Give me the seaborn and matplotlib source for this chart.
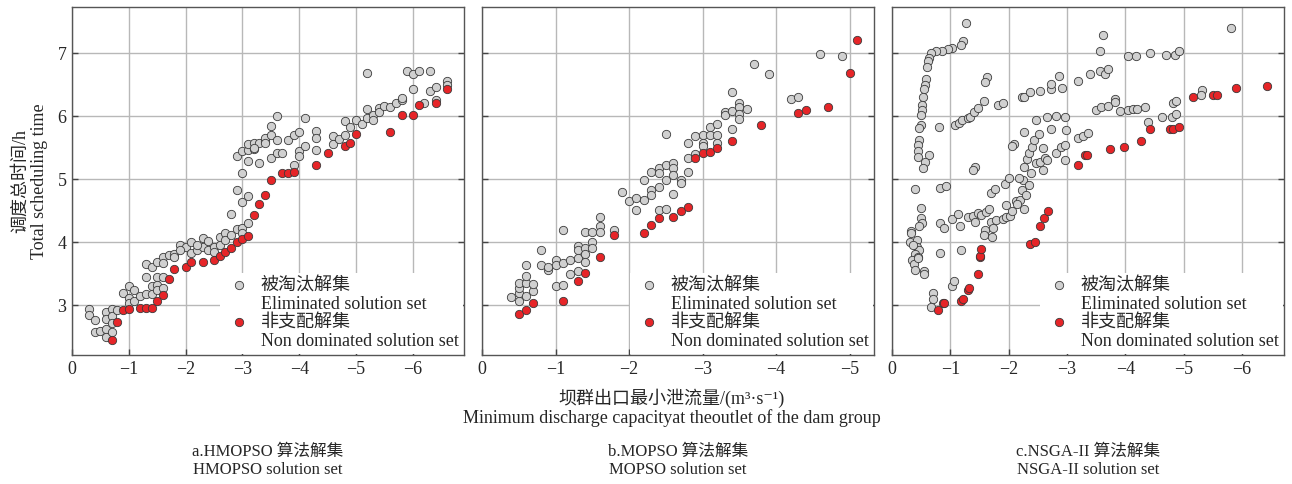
import matplotlib
matplotlib.use('Agg')
import matplotlib.pyplot as plt
from matplotlib.lines import Line2D
import seaborn as sns

sns.set_theme(style='whitegrid')
plt.rcParams['font.family'] = ['Liberation Serif', 'Noto Sans CJK SC', 'DejaVu Sans']
plt.rcParams['axes.unicode_minus'] = True

# ---- data (x: discharge, y: scheduling time) ----
# a. HMOPSO
hm_gray_x = [-0.3, -0.3, -0.4, -0.4, -0.5, -0.6, -0.6, -0.6, -0.6, -0.7, -0.7, -0.7, -0.7, -0.8,
             -0.9, -1.0, -1.0, -1.0, -1.1, -1.1, -1.2, -1.3, -1.3, -1.3, -1.4, -1.4, -1.4,
             -1.5, -1.5, -1.5, -1.5, -1.6, -1.6, -1.6, -1.6, -1.7, -1.8, -1.8, -1.9, -2.0,
             -2.1, -2.1, -2.2, -2.3, -2.3, -2.4, -2.4, -2.5, -2.6, -2.6, -2.7, -2.7, -2.8,
             -2.8, -2.9, -2.9, -2.9, -3.0, -3.0, -3.0, -3.0, -3.1, -3.1, -3.1, -3.1, -3.1,
             -3.2, -3.2, -3.3, -3.3, -3.4, -3.4, -3.5, -3.5, -3.5, -3.6, -3.6, -3.6, -3.7,
             -3.8, -3.9, -3.9, -4.0, -4.0, -4.0, -4.1, -4.1, -4.3, -4.3, -4.3, -4.6, -4.6,
             -4.7, -4.8, -4.8, -4.9, -5.0, -5.1, -5.2, -5.2, -5.2, -5.3, -5.3, -5.4, -5.4,
             -5.5, -5.6, -5.7, -5.8, -5.8, -5.9, -6.0, -6.0, -6.1, -6.2, -6.3, -6.3, -6.4,
             -6.4, -6.6, -6.6, -3.0, -2.5, -2.2, -1.9, -3.2, -3.4]
hm_gray_y = [2.94, 2.84, 2.77, 2.57, 2.59, 2.90, 2.78, 2.63, 2.50, 2.94, 2.83, 2.71, 2.58, 2.93,
             3.20, 3.30, 3.11, 3.03, 3.24, 3.06, 3.15, 3.65, 3.44, 3.17, 3.61, 3.30, 3.17,
             3.69, 3.45, 3.32, 3.24, 3.77, 3.67, 3.45, 3.27, 3.80, 3.82, 3.77, 3.96, 3.93,
             4.00, 3.83, 3.88, 4.07, 3.93, 4.02, 3.88, 3.93, 4.08, 3.95, 4.14, 4.04, 4.44,
             4.12, 4.21, 4.83, 5.36, 4.22, 4.63, 5.10, 5.44, 4.30, 4.74, 5.29, 5.46, 5.55,
             5.47, 5.57, 5.25, 5.57, 5.60, 5.66, 5.70, 5.84, 5.33, 6.00, 5.62, 5.41, 5.42,
             5.62, 5.70, 5.23, 5.74, 5.44, 5.36, 5.97, 5.52, 5.76, 5.66, 5.46, 5.68, 5.56,
             5.63, 5.92, 5.70, 5.82, 5.94, 5.87, 6.69, 6.11, 5.97, 6.02, 5.94, 6.13, 6.07,
             6.16, 6.15, 6.21, 6.26, 6.29, 6.72, 6.67, 6.43, 6.72, 6.21, 6.72, 6.39, 6.46,
             6.26, 6.55, 6.50, 4.15, 3.85, 3.95, 3.88, 5.50, 5.58]
hm_red_x = [-0.7, -0.8, -0.9, -1.0, -1.2, -1.3, -1.4, -1.5, -1.6, -1.7, -1.8, -2.0, -2.1,
            -2.3, -2.5, -2.6, -2.7, -2.8, -2.9, -3.0, -3.1, -3.2, -3.3, -3.4, -3.5, -3.7,
            -3.8, -3.9, -4.3, -4.5, -4.8, -4.9, -5.0, -5.6, -5.8, -6.0, -6.1, -6.4, -6.6]
hm_red_y = [2.45, 2.74, 2.93, 2.94, 2.95, 2.95, 2.96, 3.06, 3.16, 3.41, 3.57, 3.61, 3.68,
            3.69, 3.72, 3.78, 3.84, 3.90, 4.01, 4.05, 4.10, 4.43, 4.60, 4.75, 4.99, 5.10,
            5.10, 5.12, 5.22, 5.41, 5.53, 5.58, 5.71, 5.74, 6.02, 6.02, 6.17, 6.20, 6.43]

# b. MOPSO
mo_gray_x = [-0.4, -0.5, -0.5, -0.5, -0.5, -0.6, -0.6, -0.6, -0.6, -0.7, -0.7, -0.8, -0.8,
             -0.9, -0.9, -1.0, -1.0, -1.0, -1.1, -1.1, -1.1, -1.2, -1.2, -1.3, -1.3, -1.3,
             -1.3, -1.4, -1.4, -1.4, -1.4, -1.5, -1.5, -1.5, -1.6, -1.6, -1.6, -1.8, -1.9,
             -2.0, -2.1, -2.1, -2.2, -2.2, -2.3, -2.3, -2.3, -2.4, -2.4, -2.4, -2.4, -2.5,
             -2.5, -2.5, -2.5, -2.6, -2.6, -2.6, -2.6, -2.7, -2.7, -2.8, -2.8, -2.8, -2.9,
             -2.9, -3.0, -3.0, -3.0, -3.1, -3.1, -3.2, -3.2, -3.2, -3.3, -3.3, -3.4, -3.4,
             -3.4, -3.5, -3.5, -3.5, -3.5, -3.6, -3.7, -3.9, -4.2, -4.3, -4.6, -4.9]
mo_gray_y = [3.13, 3.06, 3.19, 3.27, 3.35, 3.14, 3.35, 3.46, 3.63, 3.23, 3.34, 3.63, 3.87,
             3.56, 3.61, 3.71, 3.63, 3.31, 3.67, 3.32, 4.19, 3.71, 3.50, 3.94, 3.87, 3.75,
             3.55, 4.16, 3.91, 3.82, 3.68, 4.16, 4.00, 3.91, 4.40, 4.25, 4.16, 4.20, 4.79,
             4.65, 4.70, 4.51, 4.67, 4.98, 5.12, 4.83, 4.75, 5.17, 5.10, 4.88, 4.51, 5.23,
             4.99, 4.53, 5.72, 5.25, 5.17, 5.07, 4.77, 4.99, 4.94, 5.57, 5.34, 5.11, 5.69,
             5.40, 5.70, 5.57, 5.52, 5.83, 5.70, 5.88, 5.70, 5.57, 6.07, 6.02, 6.38, 6.08,
             5.80, 6.20, 6.14, 6.04, 5.96, 6.11, 6.83, 6.67, 6.27, 6.30, 6.98, 6.96]
mo_red_x = [-0.5, -0.6, -0.7, -1.1, -1.3, -1.4, -1.6, -1.8, -2.2, -2.3, -2.4, -2.6, -2.7,
            -2.8, -2.9, -3.0, -3.1, -3.2, -3.4, -3.8, -4.3, -4.4, -4.7, -5.0, -5.1]
mo_red_y = [2.86, 2.93, 3.03, 3.07, 3.38, 3.51, 3.76, 4.11, 4.15, 4.28, 4.38, 4.40, 4.50,
            4.56, 5.34, 5.41, 5.43, 5.50, 5.60, 5.86, 6.05, 6.10, 6.15, 6.68, 7.21]

# c. NSGA-II
ns_gray_x = [-1.26, -1.22, -1.18, -1.02, -0.96, -0.85, -0.76, -0.67, -0.63, -0.61, -0.60,
             -0.58, -0.56, -0.54, -0.53, -0.51, -0.51, -0.50, -0.49, -0.47, -0.46, -0.45,
             -0.44, -0.44, -0.63, -0.57, -0.53, -0.81, -0.39, -0.50, -0.50, -0.51, -0.47,
             -0.33, -0.33, -0.30, -0.43, -0.42, -0.46, -0.40, -0.45, -0.34, -0.38, -0.39,
             -0.54, -0.54, -0.45, -0.36,
             -0.82, -0.93, -0.83, -0.89, -0.82, -1.03, -1.13, -1.16, -1.19, -1.03, -1.07,
             -0.70, -0.70, -0.67, -1.31, -1.38, -1.42, -1.47, -1.53, -1.61, -1.66, -1.59,
             -1.58, -1.69, -1.73, -1.72, -1.79, -1.90, -1.96, -2.03, -2.06, -2.13, -2.20,
             -2.26, -2.23, -2.24, -2.18, -1.95, -1.93, -2.00, -1.70, -1.76, -2.26, -2.32,
             -2.35, -2.40, -2.44, -2.52, -2.46, -2.39, -2.46, -2.53, -2.59, -2.63, -2.72,
             -2.66, -2.81, -2.97, -2.99, -2.81, -2.90, -2.97, -2.97, -2.26, -2.09, -2.06,
             -1.42, -1.38, -1.08, -1.14, -1.20, -1.30, -1.34, -1.40, -1.48, -1.57, -1.62,
             -1.60, -1.82, -1.90, -2.22, -2.27, -2.36, -2.53, -2.73, -2.73, -2.87, -2.91,
             -3.18, -3.40, -3.56, -3.65, -3.70, -3.57, -3.62, -4.05, -4.19, -4.43, -4.69,
             -4.85, -4.92, -5.81, -3.19, -3.28, -3.36, -3.50, -3.58, -3.70, -3.82, -3.83,
             -3.90, -4.05, -4.13, -4.20, -4.34, -4.38, -4.62, -4.80, -4.87, -4.82, -4.87,
             -5.32, -5.29, -2.59, -2.65, -2.30, -2.15, -2.34]
ns_gray_y = [7.48, 7.19, 7.13, 7.08, 7.07, 7.04, 7.03, 7.00, 6.92, 6.88, 6.78,
             6.59, 6.50, 6.43, 6.31, 6.18, 6.10, 6.01, 5.86, 5.81, 5.62, 5.54,
             5.44, 5.35, 5.39, 5.27, 5.18, 5.83, 4.84, 4.54, 4.38, 4.30, 4.25,
             4.18, 4.14, 4.00, 4.04, 3.93, 3.88, 3.81, 3.77, 3.72, 3.66, 3.56,
             3.55, 3.50, 3.75, 3.96,
             4.86, 4.89, 4.31, 4.22, 3.83, 4.36, 4.44, 4.25, 3.87, 3.31, 3.38,
             3.19, 3.10, 2.97, 4.40, 4.41, 4.32, 4.47, 4.43, 4.48, 4.53, 4.19,
             4.11, 4.32, 4.22, 4.08, 4.35, 4.36, 4.40, 4.41, 4.50, 4.65, 4.67,
             4.53, 4.82, 4.98, 5.02, 4.59, 4.93, 5.01, 4.78, 4.85, 5.20, 5.32,
             5.42, 5.51, 5.62, 5.71, 5.94, 5.09, 5.26, 5.27, 5.49, 5.34, 5.80,
             5.99, 6.00, 5.99, 5.78, 5.41, 5.51, 5.54, 5.30, 5.74, 5.56, 5.53,
             5.19, 5.15, 5.86, 5.89, 5.94, 5.97, 5.99, 6.06, 6.13, 6.24, 6.62,
             6.54, 6.18, 6.21, 6.31, 6.30, 6.38, 6.39, 6.43, 6.51, 6.63, 6.44,
             6.56, 6.66, 6.71, 6.67, 6.74, 7.03, 7.28, 6.95, 6.96, 7.00, 6.97,
             6.97, 7.04, 7.39, 5.66, 5.69, 5.73, 6.10, 6.14, 6.16, 6.27, 6.23,
             6.08, 6.09, 6.11, 6.12, 6.14, 5.90, 5.99, 5.99, 6.04, 6.21, 6.24,
             6.42, 6.33, 5.15, 5.31, 4.75, 4.60, 4.90]
ns_red_x = [-0.78, -0.87, -0.89, -1.19, -1.22, -1.30, -1.32, -1.48, -1.50, -1.51, -1.53,
            -2.36, -2.45, -2.54, -2.61, -2.67, -3.19, -3.31, -3.34, -3.73, -3.97, -4.27,
            -4.42, -4.77, -4.81, -4.92, -5.16, -5.50, -5.57, -5.90, -6.42]
ns_red_y = [2.93, 3.03, 3.04, 3.06, 3.10, 3.24, 3.28, 3.49, 3.76, 3.78, 3.89,
            3.97, 4.01, 4.26, 4.38, 4.49, 5.23, 5.38, 5.39, 5.48, 5.51, 5.61,
            5.80, 5.80, 5.80, 5.82, 6.30, 6.33, 6.33, 6.45, 6.47]

panels = [
    (hm_gray_x, hm_gray_y, hm_red_x, hm_red_y, -6.9,
     'a.HMOPSO 算法解集', 'HMOPSO solution set'),
    (mo_gray_x, mo_gray_y, mo_red_x, mo_red_y, -5.33,
     'b.MOPSO 算法解集', 'MOPSO solution set'),
    (ns_gray_x, ns_gray_y, ns_red_x, ns_red_y, -6.72,
     'c.NSGA-II 算法解集', 'NSGA-II solution set'),
]

gray = '#d0d0d0'
red = '#e62528'
edge = '#3a3a3a'

fig = plt.figure(figsize=(12.92, 4.84), dpi=100)
lefts = [72, 482, 892]
for i, (gx, gy, rx, ry, xmax, cap_cn, cap_en) in enumerate(panels):
    ax = fig.add_axes([lefts[i] / 1292, 1 - 355 / 484, 392 / 1292, 348 / 484])
    sns.scatterplot(x=gx, y=gy, ax=ax, color=gray, edgecolor=edge, linewidth=0.6,
                    s=36, label='被淘汰解集', zorder=3)
    sns.scatterplot(x=rx, y=ry, ax=ax, color=red, edgecolor=edge, linewidth=0.6,
                    s=36, label='非支配解集', zorder=4)
    ax.set_xlim(0, xmax)
    ax.set_ylim(2.21, 7.73)
    ax.set_xticks(range(0, int(xmax) - 1, -1))
    ax.set_yticks([3, 4, 5, 6, 7])
    ax.grid(True, color='#b8b8b8', linewidth=1.0)
    for sp in ax.spines.values():
        sp.set_color('#555555')
        sp.set_linewidth(1.0)
    ax.tick_params(axis='both', direction='in', length=4, width=1, color='#444444',
                   labelsize=13, left=True, right=True, bottom=True, pad=4)
    if i > 0:
        ax.tick_params(axis='y', labelleft=False)

    # legend: chinese line with marker, english line underneath
    h, l = ax.get_legend_handles_labels()
    blank = Line2D([], [], linestyle='none')
    leg = ax.legend([h[0], blank, h[1], blank],
                    [l[0], 'Eliminated solution set', l[1], 'Non dominated solution set'],
                    loc='lower right', fontsize=13, frameon=True, facecolor='white',
                    edgecolor='none', framealpha=1, borderaxespad=0.05, borderpad=0.25,
                    labelspacing=0.08, handlelength=1.6, handletextpad=0.4, fancybox=False)
    leg.set_zorder(5)

    cx = (lefts[i] + 196) / 1292
    fig.text(cx, 1 - 452 / 484, cap_cn, ha='center', va='center', fontsize=12)
    fig.text(cx, 1 - 470 / 484, cap_en, ha='center', va='center', fontsize=12)

fig.text(30 / 1292, 1 - 181 / 484, '调度总时间/h\nTotal scheduling time', rotation=90,
         ha='center', va='center', fontsize=13, linespacing=1.1)
fig.text(672 / 1292, 1 - 398 / 484, '坝群出口最小泄流量/(m³·s⁻¹)', ha='center',
         va='center', fontsize=13)
fig.text(672 / 1292, 1 - 418 / 484, 'Minimum discharge capacityat theoutlet of the dam group',
         ha='center', va='center', fontsize=13)

fig.savefig('out.png', dpi=100)
